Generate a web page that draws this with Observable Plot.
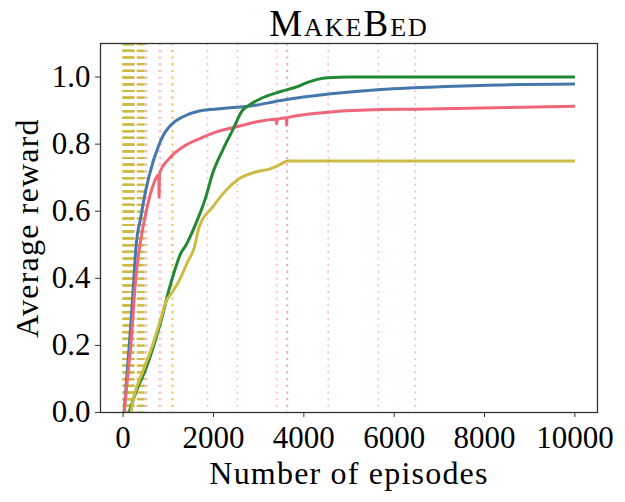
<!DOCTYPE html>
<html>
<head>
<meta charset="utf-8">
<script src="https://cdn.jsdelivr.net/npm/d3@7"></script>
<script src="https://cdn.jsdelivr.net/npm/@observablehq/plot@0.6"></script>
<style>
  html, body { margin: 0; padding: 0; background: #fff; }
  #chart svg { display: block; }
</style>
</head>
<body>
<div id="chart"></div>
<script>
// ---- data ----
const title = "MakeBed";
const xLabel = "Number of episodes";
const yLabel = "Average reward";
const xTicks = [0, 2000, 4000, 6000, 8000, 10000];
const yTicks = [0.0, 0.2, 0.4, 0.6, 0.8, 1.0];

const seriesNames = ["Series A", "Series B", "Series C", "Series D"];
const seriesColors = ["#4477AA", "#EE6677", "#228833", "#CCBB44"];

const blueX = [22, 90, 170, 230, 283, 392, 502, 651, 760, 835, 920, 1019, 1150, 1315, 1683, 2200, 2938, 3492, 4600, 5705, 6436, 7920, 10000];
const blueY = [0, 0.12, 0.26, 0.38, 0.49, 0.582, 0.662, 0.742, 0.785, 0.811, 0.833, 0.851, 0.868, 0.881, 0.899, 0.906, 0.916, 0.930, 0.950, 0.963, 0.968, 0.975, 0.979];

const redX = [22, 97, 170, 281, 355, 502, 651, 790, 798, 806, 1019, 1315, 1683, 2052, 2495, 2938, 3390, 3400, 3410, 3610, 3620, 3630, 4600, 5705, 6436, 7920, 10000];
const redY = [0, 0.10, 0.20, 0.40, 0.483, 0.593, 0.672, 0.708, 0.642, 0.712, 0.757, 0.791, 0.816, 0.836, 0.851, 0.866, 0.874, 0.86, 0.874, 0.879, 0.856, 0.879, 0.896, 0.903, 0.904, 0.908, 0.913];

const greenX = [133, 281, 502, 724, 872, 983, 1129, 1278, 1388, 1610, 1831, 1979, 2200, 2422, 2643, 2790, 3049, 3492, 3824, 4082, 4300, 4525, 5000, 10000];
const greenY = [0, 0.06, 0.13, 0.22, 0.289, 0.349, 0.418, 0.475, 0.498, 0.563, 0.642, 0.712, 0.781, 0.841, 0.901, 0.916, 0.936, 0.957, 0.970, 0.984, 0.993, 0.998, 1.0, 1.0];

const yellowX = [170, 244, 430, 651, 835, 945, 1093, 1278, 1426, 1572, 1683, 1979, 2273, 2568, 2938, 3270, 3490, 3640, 5000, 10000];
const yellowY = [0, 0.05, 0.12, 0.2, 0.279, 0.329, 0.359, 0.403, 0.448, 0.49, 0.553, 0.612, 0.662, 0.697, 0.717, 0.727, 0.74, 0.75, 0.75, 0.75];

// vertical dotted markers
const yellowVlines = [0, 10, 20, 30, 40, 50, 60, 70, 80, 90, 100, 110, 120, 130, 140, 150, 160, 170, 180, 190, 200, 210, 220, 230, 320, 340, 360, 380, 400, 420, 440, 460, 1093];
const redVlines = [240, 500, 520, 800, 840, 1868, 2530, 3400, 3625, 3640, 4540, 5650, 6465];

// ---- build tables ----
const pairs = (xs, ys, s) => xs.map((x, i) => ({x, y: ys[i], s}));
const curves = [
  pairs(blueX, blueY, seriesNames[0]),
  pairs(redX, redY, seriesNames[1]),
  pairs(greenX, greenY, seriesNames[2]),
  pairs(yellowX, yellowY, seriesNames[3])
].flat();

const font = "Liberation Serif, DejaVu Serif, serif";

const chart = Plot.plot({
  width: 625,
  height: 502,
  marginTop: 43,
  marginLeft: 100,
  marginRight: 28,
  marginBottom: 90,
  style: {fontFamily: font, background: "#fff", overflow: "visible"},
  x: {domain: [-500, 10500]},
  y: {domain: [0, 1.1]},
  color: {domain: seriesNames, range: seriesColors},
  marks: [
    Plot.ruleX(yellowVlines, {x: d => d, stroke: "#CCBB44", strokeOpacity: 0.9, strokeWidth: 1.8, strokeDasharray: "2.2,4.5"}),
    Plot.ruleX(redVlines, {x: d => d, stroke: "#EE6677", strokeOpacity: 0.4, strokeWidth: 1.6, strokeDasharray: "2.2,4.5"}),
    Plot.line(curves, {x: "x", y: "y", z: "s", stroke: "s", curve: "monotone-x", strokeWidth: 3, strokeLinejoin: "round", strokeLinecap: "butt"}),
    Plot.frame({stroke: "#333", strokeWidth: 1.3}),
    Plot.axisX({ticks: xTicks, tickFormat: d => String(d), tickSize: 5, tickPadding: 8, fontSize: 31, label: null, stroke: "#333"}),
    Plot.axisY({ticks: yTicks, tickFormat: d3.format(".1f"), tickSize: 5, tickPadding: 5, fontSize: 31, label: null, stroke: "#333"}),
    Plot.text([xLabel], {text: d => d, frameAnchor: "bottom", textAnchor: "middle", lineAnchor: "bottom", dy: 71, fontSize: 32, fill: "#000"}),
    Plot.text([yLabel], {text: d => d, frameAnchor: "left", textAnchor: "middle", rotate: -90, dx: -73, fontSize: 32, fill: "#000"}),
    Plot.text([title], {text: d => d, frameAnchor: "top", textAnchor: "middle", lineAnchor: "bottom", dy: -8, fontSize: 37, fontVariant: "small-caps", fill: "#000"})
  ]
});

// letter spacing tweaks to approximate the wider Computer Modern face
const texts = chart.querySelectorAll("text");
texts.forEach(t => {
  const s = t.textContent;
  if (s === xLabel || s === yLabel) t.setAttribute("letter-spacing", "1.2");
  if (s === title) t.setAttribute("letter-spacing", "2");
});

document.getElementById("chart").appendChild(chart);
</script>
</body>
</html>
